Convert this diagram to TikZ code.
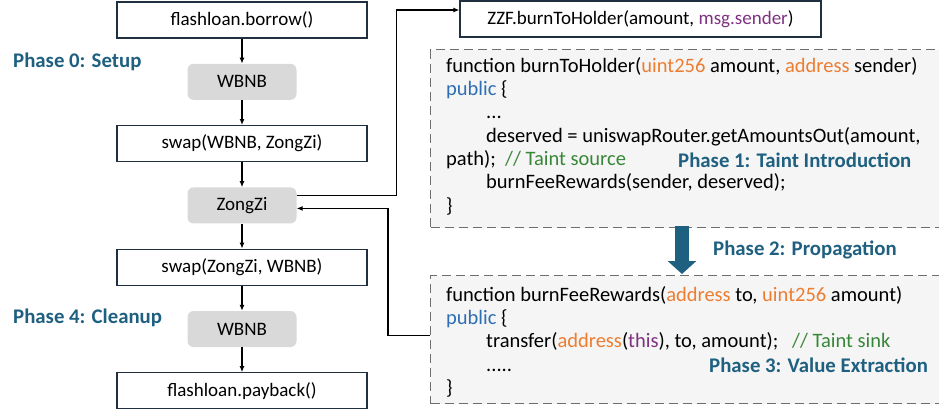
\documentclass[tikz,border=0pt]{standalone}
\usepackage{fontspec}
\setmainfont{Carlito}
\usetikzlibrary{arrows.meta, positioning}
\definecolor{phaseblue}{RGB}{31,96,128}
\definecolor{boxline}{RGB}{32,48,64}
\definecolor{tokengray}{RGB}{217,217,217}
\definecolor{codebg}{RGB}{245,245,245}
\definecolor{dashgray}{RGB}{110,110,110}
\definecolor{kworange}{RGB}{237,125,49}
\definecolor{kwblue}{RGB}{46,110,180}
\definecolor{kwpurple}{RGB}{128,48,128}
\definecolor{cmtgreen}{RGB}{56,135,56}

\begin{document}
\begin{tikzpicture}[
    x=1pt, y=-1pt,
    node distance=25pt,
    call/.style={rectangle, draw=boxline, line width=1.2pt, minimum width=250pt, minimum height=36pt, inner sep=0pt, font=\fontsize{19}{22}\selectfont},
    token/.style={rectangle, fill=tokengray, rounded corners=6pt, minimum width=109pt, minimum height=36pt, inner sep=0pt, font=\fontsize{19}{22}\selectfont},
    codebox/.style={rectangle, draw=dashgray, fill=codebg, dash pattern=on 9pt off 5pt, line width=1.1pt, minimum width=520pt, anchor=north west},
    code/.style={align=left, anchor=north west, inner sep=0pt, font=\fontsize{20.5}{23.3}\selectfont},
    phase/.style={text=phaseblue, font=\fontsize{20.8}{23}\selectfont\bfseries, inner sep=0pt},
    arrow/.style={-{Latex[length=6pt,width=5pt]}, line width=1.2pt}
]
\useasboundingbox (0,0) rectangle (939,408);

% Attack flow
\node[call] (borrow) at (242,20) {flashloan.borrow()};
\node[token, below=of borrow] (wbnbin) {WBNB};
\node[call, below=of wbnbin] (swapin) {swap(WBNB, ZongZi)};
\node[token, below=of swapin] (zongzi) {ZongZi};
\node[call, below=of zongzi] (swapout) {swap(ZongZi, WBNB)};
\node[token, below=of swapout] (wbnbout) {WBNB};
\node[call, below=of wbnbout] (payback) {flashloan.payback()};

\draw[arrow] (borrow) -- (wbnbin);
\draw[arrow] (wbnbin) -- (swapin);
\draw[arrow] (swapin) -- (zongzi);
\draw[arrow] (zongzi) -- (swapout);
\draw[arrow] (swapout) -- (wbnbout);
\draw[arrow] (wbnbout) -- (payback);

\node[phase, anchor=west] (setup) at (13,62) {Phase 0: Setup};
\node[phase, anchor=west] (cleanup) at (13,318) {Phase 4: Cleanup};

% Contract call
\node[call, minimum width=361pt] (zzf) at (640.5,19) {ZZF.burnToHolder(amount, \textcolor{kwpurple}{msg.sender})};

% Code of burnToHolder
\node[codebox, minimum height=178pt] (srcbox) at (430,49) {};
\node[code] (srccode) at (446,57) {function burnToHolder(\textcolor{kworange}{uint256} amount, \textcolor{kworange}{address} sender)\\
\textcolor{kwblue}{public} \{\\
\hspace*{40pt}...\\
\hspace*{40pt}deserved = uniswapRouter.getAmountsOut(amount,\\
path);\ \ \textcolor{cmtgreen}{// Taint source}\\
\hspace*{40pt}burnFeeRewards(sender, deserved);\\
\}};
\node[phase, anchor=west] (intro) at (678,160) {Phase 1: Taint Introduction};

% Code of burnFeeRewards
\node[codebox, minimum height=128pt] (sinkbox) at (430,275) {};
\node[code] (sinkcode) at (446,286) {function burnFeeRewards(\textcolor{kworange}{address} to, \textcolor{kworange}{uint256} amount)\\
\textcolor{kwblue}{public} \{\\
\hspace*{40pt}transfer(\textcolor{kworange}{address}(\textcolor{kwpurple}{this}), to, amount);\ \ \ \textcolor{cmtgreen}{// Taint sink}\\
\hspace*{40pt}.....\\
\}};
\node[phase, anchor=west] (extract) at (709,365) {Phase 3: Value Extraction};

% Propagation
\coordinate (propfrom) at (682,226);
\coordinate (propto) at (682,274);
\draw[phaseblue, line width=14pt, -{Triangle[length=13pt,width=28pt]}] (propfrom) -- (propto);
\node[phase, anchor=west] (prop) at (713,250) {Phase 2: Propagation};

% Call and return
\draw[arrow] ([yshift=10pt]zongzi.east) -- ++(100,0) |- ([yshift=9pt]zzf.west);
\draw[arrow] ([yshift=4pt]sinkbox.west) -- ++(-42,0) |- ([yshift=-3pt]zongzi.east);

\end{tikzpicture}
\end{document}
